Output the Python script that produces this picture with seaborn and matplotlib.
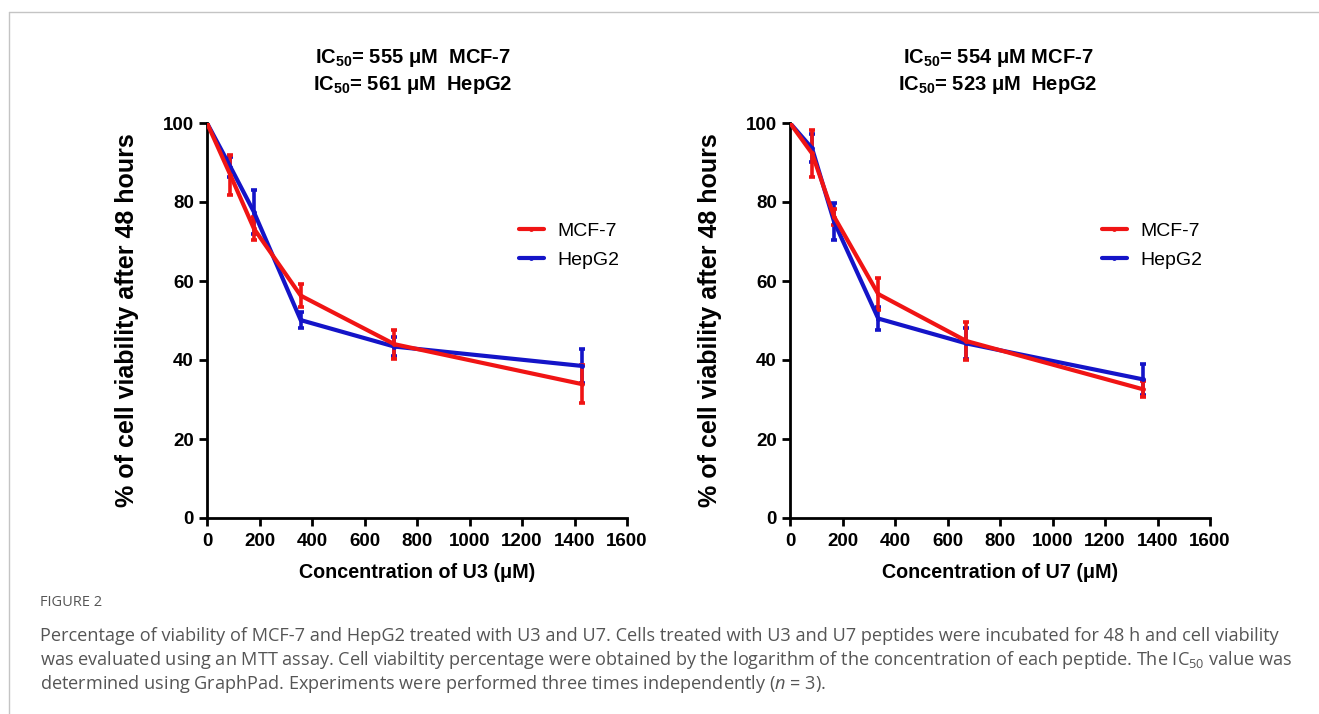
import seaborn as sns
import matplotlib.pyplot as plt
import pandas as pd
from matplotlib.lines import Line2D

# concentrations (uM) for each peptide
u3_conc = [0, 89.25, 178.5, 357, 714, 1428]
u7_conc = [0, 84, 168, 336, 672, 1344]

# % viability after 48 h, mean and error
u3_mcf7 = [100, 86.8, 73.3, 56.3, 44.0, 33.9]
u3_mcf7_err = [0, 5.0, 3.0, 2.9, 3.7, 4.9]
u3_hepg2 = [100, 88.9, 77.5, 50.1, 43.4, 38.5]
u3_hepg2_err = [0, 2.5, 5.5, 2.0, 2.5, 4.3]

u7_mcf7 = [100, 92.3, 76.3, 56.7, 44.8, 32.6]
u7_mcf7_err = [0, 6.0, 2.0, 4.1, 4.7, 2.0]
u7_hepg2 = [100, 93.6, 75.0, 50.5, 44.2, 35.1]
u7_hepg2_err = [0, 3.5, 4.7, 3.0, 4.0, 4.0]

cells = ['MCF-7', 'HepG2']
colors = {'MCF-7': '#f01414', 'HepG2': '#1414c8'}

titles = [
    ['IC$_\\mathbf{50}$= 555 \u03bcM  MCF-7', 'IC$_\\mathbf{50}$= 561 \u03bcM  HepG2'],
    ['IC$_\\mathbf{50}$= 554 \u03bcM MCF-7', 'IC$_\\mathbf{50}$= 523 \u03bcM  HepG2'],
]
xlabels = ['Concentration of U3 (\u03bcM)', 'Concentration of U7 (\u03bcM)']

caption = [
    'Percentage of viability of MCF-7 and HepG2 treated with U3 and U7. Cells treated with U3 and U7 peptides were incubated for 48 h and cell viability',
    'was evaluated using an MTT assay. Cell viabiltity percentage were obtained by the logarithm of the concentration of each peptide. The IC$_{\\mathrm{50}}$ value was',
    'determined using GraphPad. Experiments were performed three times independently ($\\mathit{n}$ = 3).',
]

sns.set_style('ticks')
plt.rcParams['font.family'] = ['Liberation Sans', 'DejaVu Sans']
plt.rcParams['text.color'] = 'black'
plt.rcParams['axes.labelcolor'] = 'black'
plt.rcParams['xtick.color'] = 'black'
plt.rcParams['ytick.color'] = 'black'
plt.rcParams['mathtext.fontset'] = 'custom'
plt.rcParams['mathtext.rm'] = 'Open Sans'
plt.rcParams['mathtext.it'] = 'Open Sans:italic'
plt.rcParams['mathtext.bf'] = 'Liberation Sans:bold'


def make_df(conc, mcf7, mcf7_err, hepg2, hepg2_err):
    rows = []
    for c, v, e in zip(conc, mcf7, mcf7_err):
        rows.append({'conc': c, 'viability': v, 'err': e, 'cell': 'MCF-7'})
    for c, v, e in zip(conc, hepg2, hepg2_err):
        rows.append({'conc': c, 'viability': v, 'err': e, 'cell': 'HepG2'})
    return pd.DataFrame(rows)


panels = [
    make_df(u3_conc, u3_mcf7, u3_mcf7_err, u3_hepg2, u3_hepg2_err),
    make_df(u7_conc, u7_mcf7, u7_mcf7_err, u7_hepg2, u7_hepg2_err),
]

fig = plt.figure(figsize=(13.19, 7.14), dpi=100)
lefts = [207 / 1319, 790 / 1319]
title_x = [413 / 1319, 998 / 1319]

for i, df in enumerate(panels):
    ax = fig.add_axes([lefts[i], 1 - 518 / 714, 420 / 1319, 395 / 714])
    # blue first so red sits on top
    for cell in ['HepG2', 'MCF-7']:
        sub = df[df['cell'] == cell]
        ax.errorbar(sub['conc'], sub['viability'], yerr=sub['err'], fmt='none',
                    ecolor=colors[cell], elinewidth=2.6, capsize=2, capthick=2.6, zorder=2)
    sns.lineplot(data=df, x='conc', y='viability', hue='cell', hue_order=['HepG2', 'MCF-7'],
                 palette=colors, linewidth=3, marker='o', markersize=3.5,
                 markeredgewidth=0, legend=False, ax=ax, zorder=3)

    ax.set_xlim(0, 1600)
    ax.set_ylim(0, 100)
    ax.set_xticks(range(0, 1601, 200))
    ax.set_yticks(range(0, 101, 20))
    sns.despine(ax=ax)
    for s in ['left', 'bottom']:
        ax.spines[s].set_linewidth(2.0)
        ax.spines[s].set_color('black')
    ax.tick_params(width=2.0, length=6, labelsize=13.5, color='black')
    ax.tick_params(axis='x', pad=5)
    for lab in ax.get_xticklabels() + ax.get_yticklabels():
        lab.set_fontweight('bold')
    ax.set_xlabel(xlabels[i], fontsize=14.2, fontweight='bold', labelpad=9)
    ax.set_ylabel('% of cell viability after 48 hours', fontsize=18, fontweight='bold', labelpad=17)

    handles = [Line2D([], [], color=colors[c], linewidth=3, marker='o', markersize=3.5,
                      markeredgewidth=0) for c in cells]
    ax.legend(handles, cells, loc='center left', bbox_to_anchor=(0.70, 0.69), frameon=False,
              fontsize=14, handlelength=1.3, handletextpad=0.7, labelspacing=0.6)

    fig.text(title_x[i], 1 - 58 / 714, titles[i][0], ha='center', va='center',
             fontsize=14.5, fontweight='bold')
    fig.text(title_x[i], 1 - 85 / 714, titles[i][1], ha='center', va='center',
             fontsize=14.5, fontweight='bold')

# caption
fig.text(40 / 1319, 1 - 602 / 714, 'FIGURE 2', ha='left', va='center', fontsize=10.5,
         color='#555555', family=['Open Sans', 'DejaVu Sans'])
for k, line in enumerate(caption):
    fig.text(40 / 1319, 1 - (636 + 24 * k) / 714, line, ha='left', va='center', fontsize=13.1,
             color='#555555', family=['Open Sans', 'DejaVu Sans'])

# thin page border
fig.add_artist(Line2D([9 / 1319, 1], [1 - 12 / 714, 1 - 12 / 714], color='#c4c4c4', linewidth=1))
fig.add_artist(Line2D([9 / 1319, 9 / 1319], [0, 1 - 12 / 714], color='#c4c4c4', linewidth=1))

fig.savefig('out.png', dpi=100, facecolor='white')
